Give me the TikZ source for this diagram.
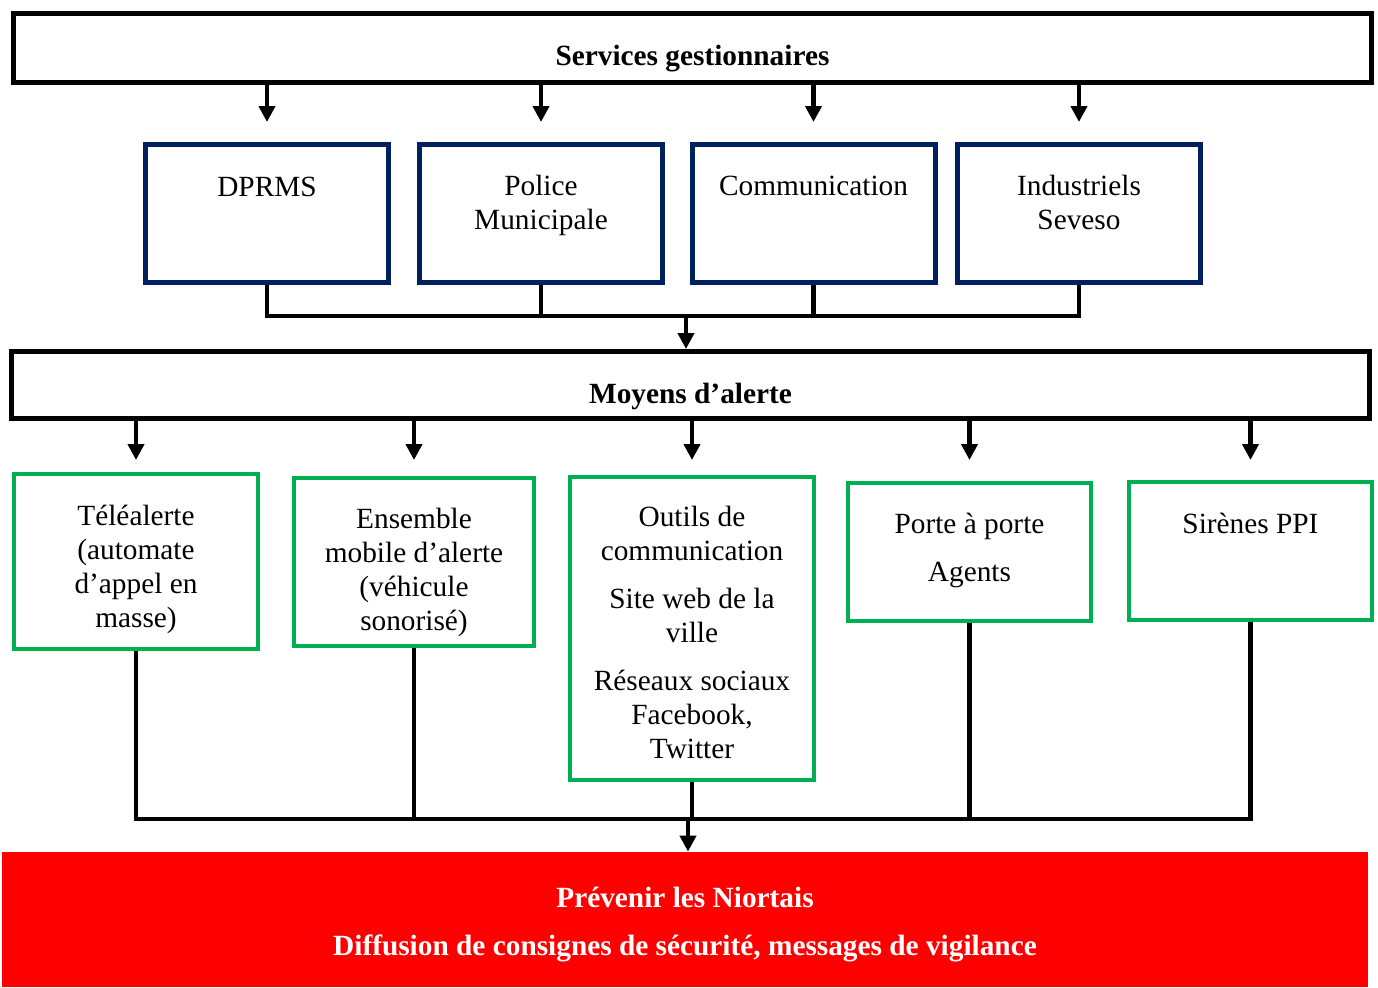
\documentclass[tikz,border=0pt]{standalone}
\usepackage{fontspec}
\setmainfont{Liberation Serif}
\usetikzlibrary{arrows.meta, positioning}
\definecolor{navy}{HTML}{002060}
\definecolor{vert}{HTML}{00B050}
\definecolor{rouge}{HTML}{FF0000}
\tikzset{
  blackbox/.style={draw=black, line width=2.5pt, minimum width=679pt, minimum height=34.5pt, inner sep=0pt},
  bluebox/.style={draw=navy, line width=2.5pt, minimum width=121.5pt, minimum height=69pt, inner sep=0pt},
  greenbox/.style={draw=vert, line width=2pt, inner sep=0pt},
  txt/.style={align=center, anchor=base, inner sep=0pt, font=\fontsize{14.66}{17}\selectfont},
  btxt/.style={txt, font=\bfseries\fontsize{14.66}{17}\selectfont},
  conn/.style={line width=2.2pt}
}

\begin{document}
\begin{tikzpicture}[x=0.5pt, y=-0.5pt, >={Triangle[width=8pt,length=8pt]}]
\useasboundingbox (0,0) rectangle (1378,987);

\node[blackbox] (serv) at (692.5,48) {};
\node[btxt] (servT) at (692.5,65) {Services gestionnaires};

\node[bluebox] (dprms) at (267,213.5) {};
\node[bluebox] (police) at (541,213.5) {};
\node[bluebox] (comm) at (813.5,213.5) {};
\node[bluebox] (indus) at (1079,213.5) {};
\node[txt] (dprmsT) at (267,196) {DPRMS};
\node[txt] (policeT) at (541,229) {Police\\Municipale};
\node[txt] (commT) at (813.5,195) {Communication};
\node[txt] (indusT) at (1079,229) {Industriels\\Seveso};

\node[blackbox, minimum height=33.5pt] (moyens) at (690.5,385) {};
\node[btxt] (moyensT) at (690.5,403) {Moyens d’alerte};

\node[greenbox, minimum width=122pt, minimum height=87.5pt] (tel) at (136,561.5) {};
\node[greenbox, minimum width=120pt, minimum height=84pt] (ens) at (414,562) {};
\node[greenbox, minimum width=122pt, minimum height=151.5pt] (outils) at (692,628.5) {};
\node[greenbox, minimum width=121.5pt, minimum height=69pt] (porte) at (969.5,552) {};
\node[greenbox, minimum width=121.5pt, minimum height=69pt] (sir) at (1250.5,551) {};
\node[txt] (telT) at (136,627) {Téléalerte\\(automate\\d’appel en\\masse)};
\node[txt] (ensT) at (414,630) {Ensemble\\mobile d’alerte\\(véhicule\\sonorisé)};
\node[txt] (outilsT) at (692,758) {Outils de\\communication\\[7pt]Site web de la\\ville\\[7pt]Réseaux sociaux\\Facebook,\\Twitter};
\node[txt] (porteT) at (969.5,581) {Porte à porte\\[7pt]Agents};
\node[txt] (sirT) at (1250.5,533) {Sirènes PPI};

\node[fill=rouge, minimum width=683pt, minimum height=67.5pt, inner sep=0pt] (prev) at (685,919.5) {};
\node[btxt, text=white] (prevT) at (685,955) {Prévenir les Niortais\\[7pt]Diffusion de consignes de sécurité, messages de vigilance};

\coordinate (tips1) at (0,122);
\foreach \b in {dprms,police,comm,indus}
  \draw[->, conn] (serv.south -| \b.north) -- (tips1 -| \b.north);
\coordinate (bus1) at (686,316);
\draw[conn] (dprms.south) |- (bus1) -| (indus.south);
\draw[conn] (police.south) -- (police.south |- bus1);
\draw[conn] (comm.south) -- (comm.south |- bus1);
\draw[->, conn] (bus1) -- (moyens.north -| bus1);

\coordinate (tips2) at (0,460);
\foreach \b in {tel,ens,outils,porte,sir}
  \draw[->, conn] (moyens.south -| \b.north) -- (tips2 -| \b.north);
\coordinate (bus2) at (688,819);
\draw[conn] (tel.south) |- (bus2) -| (sir.south);
\foreach \b in {ens,outils,porte}
  \draw[conn] (\b.south) -- (\b.south |- bus2);
\draw[->, conn] (bus2) -- (prev.north -| bus2);
\end{tikzpicture}
\end{document}
